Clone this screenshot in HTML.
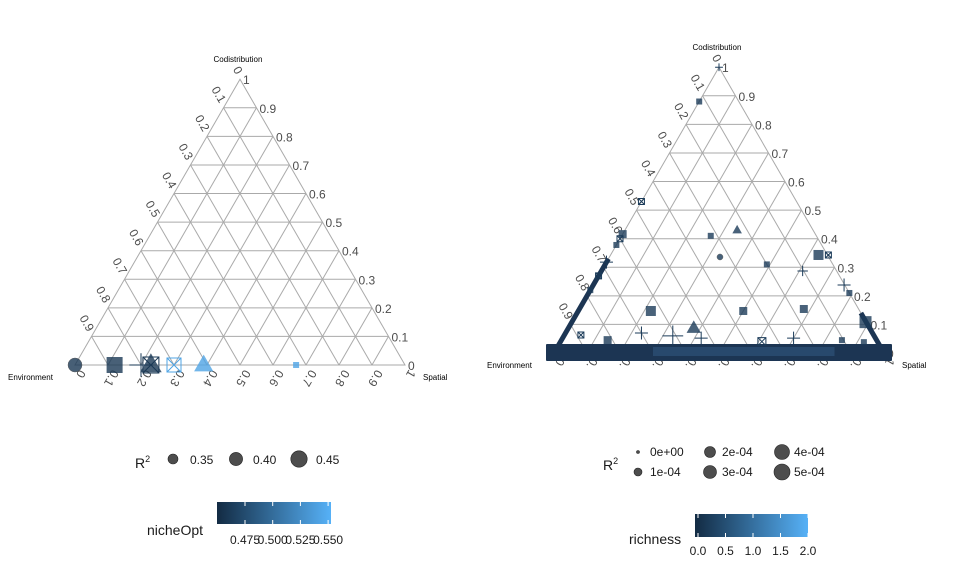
<!DOCTYPE html>
<html><head><meta charset="utf-8"><style>
body{margin:0;background:#fff;}
svg{display:block;font-family:"Liberation Sans",sans-serif;}
</style></head><body>
<svg id="c" width="960" height="576" viewBox="0 0 960 576"></svg>
<script>
// Left plot data
const leftSpatial=[0.0,0.12,0.2,0.23,0.23,0.3,0.39,0.67];
const leftCodist=[0.0,0.0,0.0,0.0,0.0,0.0,0.0,0.0];
const leftShape=['circle','square','plus','triangle','boxx','boxx','triangle','square'];
const leftColor=[0.1,0.1,0.1,0.1,0.1,0.9,0.9,0.9];
const leftSize=[7,8,9,9,8,7,8,3];
// Right plot scattered data
const rightSpatial=[0.0,0.0,0.0,0.0,0.0,0.0,0.0,0.27,0.34,0.335,0.49,0.63,0.66,0.61,0.76,0.22,0.50,0.68,0.38,0.23,0.33,0.42,0.05,0.14,0.61,0.70,0.85,0.92,0.89,0.79,0.0,0.0];
const rightCodist=[1.0,0.88,0.53,0.416,0.40,0.378,0.318,0.41,0.43,0.336,0.31,0.343,0.343,0.287,0.238,0.147,0.147,0.154,0.087,0.07,0.06,0.052,0.063,0.045,0.04,0.052,0.045,0.038,0.108,0.21,0.27,0.22];
const rightShape=['plus','square','boxx','square','boxx','square','plus','square','triangle','circle','square','square','boxx','plus','plus','square','square','square','triangle','plus','plus','plus','boxx','square','boxx','plus','square','square','square','square','boxx','square'];
const rightSize=[3,3,3,4,3,3,5,3,4,3,3,5,3,4,5,5,4,4,6,5,8,5,3,4,4,5,3,3,6,3,3,3];
// legend values
const r2Labels=['0.35','0.40','0.45'];
const nicheTicks=['0.475','0.500','0.525','0.550'];
const richR2=['0e+00','1e-04','2e-04','3e-04','4e-04','5e-04'];
const richTicks=['0.0','0.5','1.0','1.5','2.0'];
const ticks=[0,0.1,0.2,0.3,0.4,0.5,0.6,0.7,0.8,0.9,1];

const svg=document.getElementById('c');
const NS='http://www.w3.org/2000/svg';
function el(t,a,p){const e=document.createElementNS(NS,t);for(const k in a)e.setAttribute(k,a[k]);(p||svg).appendChild(e);return e;}
function col(v){const a=[19,43,67],b=[86,177,247];return `rgb(${a.map((x,i)=>Math.round(x+(b[i]-x)*v)).join(',')})`;}

function tern(x0,yb,W,name,trunc){
  const H=W*0.866;
  const g=el('g',{});
  
  
  const P=(s,c)=>[x0+W*(s+c/2),yb-H*c];
  for(let i=1;i<10;i++){const t=i/10;
    let a=P(0,t),b=P(1-t,t);el('line',{x1:a[0],y1:a[1],x2:b[0],y2:b[1],stroke:'#aaa','stroke-width':1},g);
    a=P(t,0);b=P(t,1-t);el('line',{x1:a[0],y1:a[1],x2:b[0],y2:b[1],stroke:'#aaa','stroke-width':1},g);
    a=P(t,0);b=P(0,t);el('line',{x1:a[0],y1:a[1],x2:b[0],y2:b[1],stroke:'#aaa','stroke-width':1},g);}
  const A=P(0,1),L=P(0,0),R=P(1,0);
  el('polygon',{points:`${A} ${L} ${R}`,fill:'none',stroke:'#aaa','stroke-width':1},g);
  ticks.forEach((t,i)=>{
    let p=P(1-t,t);let tx=el('text',{x:p[0]+3,y:p[1]+5,'font-size':12,fill:'#4d4d4d'},g);tx.textContent=i==10?'1':(i==0?'0':t.toFixed(1));
    
    p=P(0,1-t);let lx=p[0]-4,ly=p[1]-4;
    if(i<10){tx=el('text',{x:lx,y:ly,'font-size':12,fill:'#4d4d4d','text-anchor':'end',transform:`rotate(60 ${lx} ${ly})`},g);tx.textContent=i==0?'0':t.toFixed(1);
    }
    p=P(t,0);let bx=p[0]+4,by=p[1]+4;
    tx=el('text',{x:bx,y:by,'font-size':12,fill:'#4d4d4d','text-anchor':'start',transform:`rotate(120 ${bx} ${by})`},g);
    tx.textContent=i==0?'0':(trunc&&i<10?'0.':(i==10?'1':t.toFixed(1)));
    
  });
  let t=el('text',{x:A[0]-2,y:A[1]-17,'font-size':8,'text-anchor':'middle'},g);t.textContent='Codistribution';
  
  t=el('text',{x:L[0]-67,y:L[1]+15,'font-size':8},g);t.textContent='Environment';
  
  t=el('text',{x:R[0]+18,y:R[1]+15,'font-size':8},g);t.textContent='Spatial';
  
  return P;
}
function mark(g,shape,x,y,s,c){
  let e;
  if(shape=='circle')e=el('circle',{cx:x,cy:y,r:s,fill:c,opacity:0.8,stroke:'#333','stroke-width':0.5},g);
  else if(shape=='square')e=el('rect',{x:x-s,y:y-s,width:2*s,height:2*s,fill:c,opacity:0.8},g);
  else if(shape=='triangle')e=el('polygon',{points:`${x},${y-s*1.3} ${x-s*1.2},${y+s*0.8} ${x+s*1.2},${y+s*0.8}`,fill:c,opacity:0.8},g);
  else if(shape=='plus')e=el('path',{d:`M${x-s*1.3},${y}H${x+s*1.3}M${x},${y-s*1.3}V${y+s*1.3}`,stroke:c,'stroke-width':1,fill:'none'},g);
  else e=el('path',{d:`M${x-s},${y-s}h${2*s}v${2*s}h${-2*s}zM${x-s},${y-s}L${x+s},${y+s}M${x+s},${y-s}L${x-s},${y+s}`,stroke:c,'stroke-width':1,fill:'none'},g);
  return e;
}
// left
const PL=tern(75,365,330,'left-ternary',false);
const gl=el('g',{});
leftSpatial.forEach((s,i)=>{const p=PL(s,leftCodist[i]);const m=mark(gl,leftShape[i],p[0],p[1],leftSize[i],col(leftColor[i]));
  
  });
// right
const PR=tern(554,353,330,'right-ternary',true);
const gr=el('g',{});
const b1=PR(0,0),b2=PR(1,0);
const band=el('rect',{x:b1[0]-8,y:b1[1]-9,width:b2[0]-b1[0]+16,height:17,fill:'#1c3553',rx:1},gr);


const hl=el('rect',{x:PR(0.3,0)[0],y:b1[1]-6,width:PR(0.85,0)[0]-PR(0.3,0)[0],height:9,fill:'#3f6f9f',opacity:0.35},gr);


const le0=PR(0,0.33),le1=PR(0,0.02);
const e1=el('line',{x1:le0[0],y1:le0[1],x2:le1[0],y2:le1[1],stroke:'#1c3553','stroke-width':5},gr);


const re0=PR(0.86,0.14),re1=PR(0.98,0.02);
const e2=el('line',{x1:re0[0],y1:re0[1],x2:re1[0],y2:re1[1],stroke:'#1c3553','stroke-width':5},gr);


rightSpatial.forEach((s,i)=>{const p=PR(s,rightCodist[i]);const m=mark(gr,rightShape[i],p[0],p[1],rightSize[i],col(0.12));
  
  });

// legends
function txt(x,y,s,fs,name,anchor){const t=el('text',{x,y,'font-size':fs,fill:'#1a1a1a','text-anchor':anchor||'start'});t.textContent=s;
  return t;}
let t=txt(135,468,'R',14,'left-size-legend-title');el('tspan',{dy:-6,'font-size':9},t).textContent='2';
r2Labels.forEach((s,i)=>{const c=el('circle',{cx:173+i*63,cy:459,r:5+i*1.6,fill:'#4d4d4d',stroke:'#222','stroke-width':0.6});
  
  txt(190+i*63,464,s,12,'size-legend-label');});
function cbar(x,y,w,h,id,name){const d=el('defs',{});const lg=el('linearGradient',{id},d);
  el('stop',{offset:0,'stop-color':col(0)},lg);el('stop',{offset:1,'stop-color':col(1)},lg);
  const r=el('rect',{x,y,width:w,height:h,fill:`url(#${id})`});}
cbar(217,502,114,22,'g1','nicheopt-colorbar');
txt(147,535,'nicheOpt',14,'nicheopt-legend-title');
nicheTicks.forEach((s,i)=>{const x=245+i*27.7;el('line',{x1:x,y1:502,x2:x,y2:506,stroke:'#fff'});el('line',{x1:x,y1:520,x2:x,y2:524,stroke:'#fff'});
  txt(x,544,s,12,'nicheopt-tick','middle');});
t=txt(603,470,'R',14,'right-size-legend-title');el('tspan',{dy:-6,'font-size':9},t).textContent='2';
richR2.forEach((s,i)=>{const cx=638+Math.floor(i/2)*72,cy=452+(i%2)*20;const r=[1.5,4,5.5,6.5,7.5,8][i];
  const c=el('circle',{cx,cy,r,fill:'#4d4d4d',stroke:'#222','stroke-width':0.6});
  
  txt(cx+12,cy+4,s,12,'richness-size-label');});
cbar(695,514,113,23,'g2','richness-colorbar');
txt(629,544,'richness',14,'richness-legend-title');
richTicks.forEach((s,i)=>{const x=698+i*27.5;el('line',{x1:x,y1:514,x2:x,y2:518,stroke:'#fff'});el('line',{x1:x,y1:533,x2:x,y2:537,stroke:'#fff'});
  txt(x,555,s,12,'richness-tick','middle');});
</script>
</body></html>
